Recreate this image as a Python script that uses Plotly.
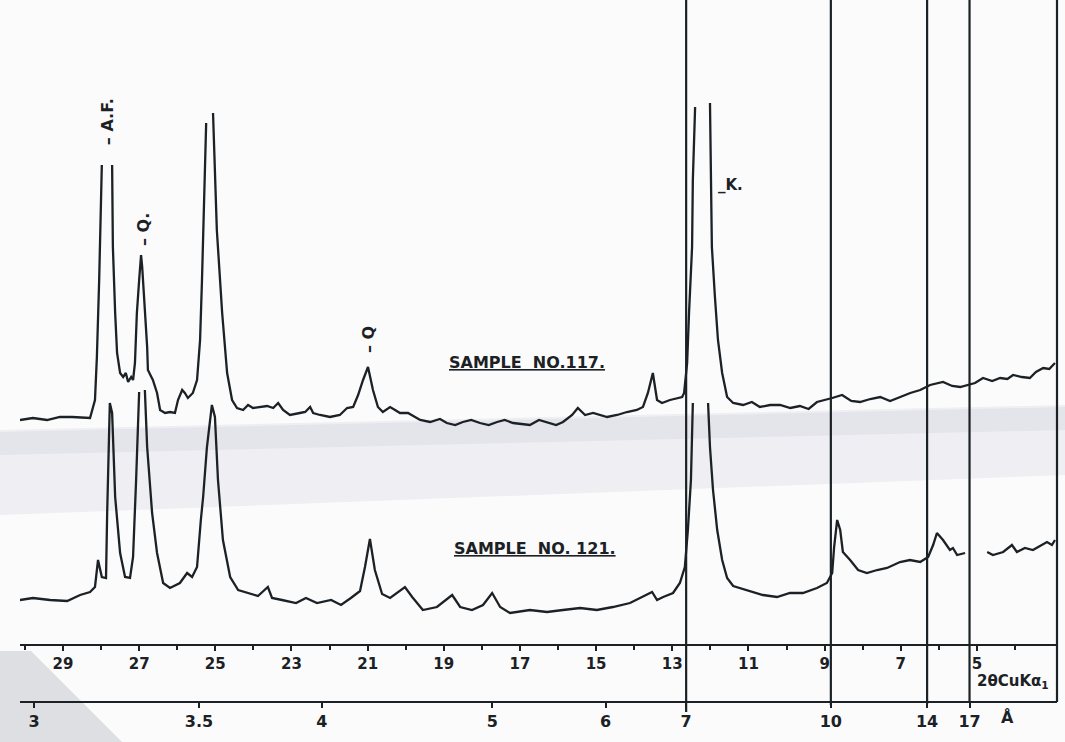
import numpy as np
import plotly.graph_objects as go

INK = "#1c2125"
FONT = "DejaVu Sans"

# ---------------- data (2-theta in degrees, intensity in chart units above the 2-theta scale) -------------
s117_2theta = [30.13, 29.79, 29.42, 29.08, 28.76, 28.47, 28.29, 28.16, 28.11, 28.05, 28.00, 27.98, None,
               27.71, 27.69, 27.63, 27.58, 27.50, 27.42, 27.35, 27.29, 27.21, 27.16, 27.11, 27.06, 27.00,
               26.95, 26.92, 26.87, 26.79, 26.77, 26.64, 26.53, 26.45, 26.32, 26.19, 26.06, 25.98, 25.87,
               25.80, 25.72, 25.59, 25.48, 25.40, 25.35, 25.30, 25.24, None,
               25.06, 25.01, 24.96, 24.82, 24.69, 24.56, 24.43, 24.27, 24.14, 24.01, 23.83, 23.64, 23.48,
               23.35, 23.22, 23.04, 22.78, 22.64, 22.51, 22.43, 22.25, 21.99, 21.73, 21.54, 21.38, 21.25,
               21.12, 20.99, 20.86, 20.73, 20.60, 20.41, 20.28, 20.15, 19.94, 19.62, 19.36, 19.10, 18.92,
               18.70, 18.50, 18.28, 18.05, 17.82, 17.60, 17.40, 17.18, 16.95, 16.74, 16.50, 16.29, 16.05,
               15.87, 15.63, 15.48, 15.29, 15.08, 14.71, 14.45, 14.19, 13.93, 13.77, 13.64, 13.51, 13.40,
               13.27, 13.06, 12.74, 12.69, 12.61, 12.56, 12.48, 12.46, 12.40, None,
               12.01, 11.98, 11.96, 11.88, 11.80, 11.69, 11.56, 11.40, 11.14, 10.91, 10.70, 10.43, 10.17,
               9.90, 9.65, 9.42, 9.20, 8.80, 8.54, 8.30, 8.07, 7.80, 7.54, 7.28, 7.02, 6.75, 6.49, 6.23,
               5.89, 5.65, 5.44, 5.26, 5.05, 4.84, 4.60, 4.39, 4.20, 4.05, 3.82, 3.61, 3.45, 3.26, 3.10, 2.95]
s117_int = [225, 227, 225, 228, 228, 227, 227, 245, 288, 365, 445, 480, None,
            480, 398, 332, 292, 272, 268, 272, 263, 268, 265, 282, 332, 365,
            390, 378, 348, 298, 275, 265, 252, 235, 232, 233, 232, 245, 255,
            252, 247, 252, 265, 305, 365, 432, 522, None,
            532, 465, 415, 332, 272, 245, 237, 235, 240, 237, 238, 239, 237,
            242, 235, 230, 232, 233, 238, 232, 230, 228, 230, 237, 238, 250,
            265, 278, 255, 238, 233, 238, 235, 232, 232, 225, 223, 226, 222,
            220, 223, 225, 222, 220, 223, 225, 222, 221, 220, 225, 223, 220,
            223, 230, 237, 230, 232, 228, 230, 233, 235, 238, 252, 272, 245,
            242, 245, 248, 252, 282, 332, 398, 465, 538, None,
            542, 465, 398, 348, 305, 272, 248, 242, 240, 243, 238, 240, 240,
            237, 239, 236, 243, 247, 250, 244, 243, 246, 248, 244, 248, 252, 255, 260,
            263, 259, 258, 260, 262, 267, 264, 267, 266, 270, 268, 267, 273, 277, 276, 282]

s121_2theta = [30.13, 29.79, 29.34, 28.89, 28.55, 28.29, 28.16, 28.08, 27.98, 27.87, 27.84, 27.77, 27.71,
               27.63, 27.50, 27.37, 27.24, 27.16, 27.08, 27.00, None,
               26.85, 26.79, 26.66, 26.53, 26.37, 26.19, 25.93, 25.74, 25.61, 25.48, 25.38, 25.32, 25.22,
               25.09, 25.01, 24.93, 24.80, 24.61, 24.40, 24.17, 23.88, 23.62, 23.51, 23.25, 22.88, 22.62,
               22.33, 21.96, 21.70, 21.44, 21.20, 21.07, 20.94, 20.81, 20.62, 20.41, 20.02, 19.83, 19.55,
               19.18, 18.78, 18.57, 18.26, 17.97, 17.73, 17.52, 17.26, 16.74, 16.29, 15.87, 15.42, 14.98,
               14.56, 14.11, 13.77, 13.53, 13.40, 13.24, 12.98, 12.80, 12.67, 12.59, 12.51, 12.46, None,
               12.06, 12.01, 11.93, 11.82, 11.69, 11.56, 11.40, 11.14, 10.88, 10.62, 10.25, 9.91, 9.57,
               9.20, 8.94, 8.80, 8.75, 8.67, 8.59, 8.52, 8.33, 8.12, 7.89, 7.62, 7.36, 7.02, 6.76, 6.49,
               6.28, 6.15, 6.05, 5.89, 5.71, 5.63, 5.52, 5.31, None,
               4.73, 4.58, 4.31, 4.08, 3.95, 3.74, 3.53, 3.29, 3.16, 3.03, 2.95]
s121_int = [45, 47, 45, 44, 50, 53, 58, 85, 68, 67, 132, 242, 232,
            148, 92, 68, 67, 88, 165, 253, None,
            255, 198, 132, 92, 62, 57, 62, 72, 68, 78, 125, 148, 198,
            240, 228, 165, 105, 68, 55, 52, 49, 58, 47, 45, 42, 47,
            42, 45, 40, 47, 54, 78, 106, 75, 51, 47, 58, 48, 35,
            38, 50, 38, 35, 40, 52, 38, 32, 35, 33, 35, 37, 35,
            38, 42, 48, 53, 45, 48, 52, 62, 78, 115, 165, 242, None,
            242, 198, 155, 115, 85, 67, 59, 56, 53, 50, 48, 52, 52,
            57, 62, 72, 98, 125, 115, 93, 85, 75, 72, 75, 77, 83, 85, 83,
            88, 100, 112, 105, 95, 97, 90, 92, None,
            93, 90, 93, 100, 93, 97, 95, 100, 103, 100, 105]

two_theta_major = [29, 27, 25, 23, 21, 19, 17, 15, 13, 11, 9, 7, 5]
two_theta_labels = ["29", "27", "25", "23", "21", "19", "17", "15", "13", "11", "9", "7", "5"]
two_theta_minor = [30, 28, 26, 24, 22, 20, 18, 16, 14, 12, 10, 8, 6, 4]

d_ticks = [3, 3.5, 4, 5, 6, 7, 10, 14, 17]
d_labels = ["3", "3.5", "4", "5", "6", "7", "10", "14", "17"]
d_lines = [7, 10, 14, 17]
WAVELENGTH = 1.5406  # Cu K-alpha1, Angstrom


def bragg_2theta(d):
    return float(np.degrees(2 * np.arcsin(WAVELENGTH / (2 * d))))


# ---------------- figure ----------------
W, H = 1065, 742
X_RANGE = [30.129, 2.897]
Y_RANGE = [-97, 645]

fig = go.Figure()
fig.add_trace(go.Scatter(x=s117_2theta, y=s117_int, mode="lines", name="Sample No. 117",
                         line=dict(color=INK, width=2.3), connectgaps=False, xaxis="x", yaxis="y"))
fig.add_trace(go.Scatter(x=s121_2theta, y=s121_int, mode="lines", name="Sample No. 121",
                         line=dict(color=INK, width=2.3), connectgaps=False, xaxis="x2", yaxis="y"))


def py(p):
    return 1 - p / H


def px(p):
    return p / W


shapes = []
# scan artefacts: fold band and shaded corner
shapes.append(dict(type="path", xref="paper", yref="paper", layer="below", line=dict(width=0),
                   fillcolor="rgba(195,198,215,0.22)",
                   path=f"M 0,{py(430)} L 1,{py(405)} L 1,{py(475)} L 0,{py(515)} Z"))
shapes.append(dict(type="path", xref="paper", yref="paper", layer="below", line=dict(width=0),
                   fillcolor="rgba(180,178,198,0.18)",
                   path=f"M 0,{py(432)} L 1,{py(407)} L 1,{py(430)} L 0,{py(455)} Z"))
shapes.append(dict(type="path", xref="paper", yref="paper", layer="below", line=dict(width=0),
                   fillcolor="rgba(170,172,182,0.35)",
                   path=f"M 0,{py(651)} L {px(31)},{py(651)} L {px(122)},0 L 0,0 Z"))

bottoms = {7: 712, 10: 705, 14: 704, 17: 702}
for d in d_lines:
    xv = bragg_2theta(d)
    shapes.append(dict(type="line", xref="x", yref="paper", x0=xv, x1=xv, y0=py(bottoms[d]), y1=1,
                       line=dict(color=INK, width=2.2)))
shapes.append(dict(type="line", xref="x domain", yref="paper", x0=1, x1=1, y0=py(702), y1=1,
                   line=dict(color=INK, width=2.2)))

tickfont = dict(family=FONT, size=15, color=INK, weight="bold")
axis_common = dict(range=X_RANGE, domain=[20 / W, 1057 / W], anchor="free", showline=True,
                   linecolor=INK, linewidth=2.2, ticks="outside", ticklen=5, tickwidth=1.5,
                   tickcolor=INK, showgrid=False, zeroline=False, fixedrange=True)

fig.update_layout(
    width=W, height=H,
    margin=dict(l=0, r=0, t=0, b=0),
    paper_bgcolor="#fbfbfb", plot_bgcolor="rgba(0,0,0,0)",
    showlegend=False,
    shapes=shapes,
    xaxis=dict(**axis_common, position=py(645), tickmode="array", tickvals=two_theta_major,
               ticktext=two_theta_labels, tickfont=tickfont,
               minor=dict(tickmode="array", tickvals=two_theta_minor, ticks="outside", ticklen=4,
                          tickwidth=1.5, tickcolor=INK, showgrid=False)),
    xaxis2=dict(**axis_common, position=py(702), overlaying="x", tickmode="array",
                tickvals=[bragg_2theta(d) for d in d_ticks], ticktext=d_labels,
                tickfont=dict(family=FONT, size=16, color=INK, weight="bold")),
    yaxis=dict(range=Y_RANGE, domain=[0, 1], visible=False, fixedrange=True),
)

lab = dict(family=FONT, size=16, color=INK, weight="bold")
ann = [
    dict(x=27.84, y=523, text="– A.F.", textangle=-90, font=lab),
    dict(x=26.90, y=416, text="– Q.", textangle=-90, font=lab),
    dict(x=20.99, y=305, text="– Q", textangle=-90, font=lab),
    dict(x=11.86, y=460, text="_K.", xanchor="left", font=dict(family=FONT, size=15, color=INK, weight="bold")),
    dict(x=18.92, y=283, text="<u>SAMPLE  NO.117.</u>", xanchor="left",
         font=dict(family=FONT, size=16, color=INK, weight="bold")),
    dict(x=18.78, y=97, text="<u>SAMPLE  NO. 121.</u>", xanchor="left",
         font=dict(family=FONT, size=16, color=INK, weight="bold")),
    dict(x=5.04, y=-36, text="2θCuKα<sub>1</sub>", xanchor="left",
         font=dict(family=FONT, size=15, color=INK, weight="bold")),
    dict(x=4.21, y=-72, text="Å", font=dict(family=FONT, size=16, color=INK, weight="bold")),
]
for a in ann:
    a.update(xref="x", yref="y", showarrow=False)
fig.update_layout(annotations=ann)

fig.write_html("out.html", config={"responsive": False, "displayModeBar": False},
               post_script="document.body.style.margin='0';document.body.style.overflow='hidden';")
